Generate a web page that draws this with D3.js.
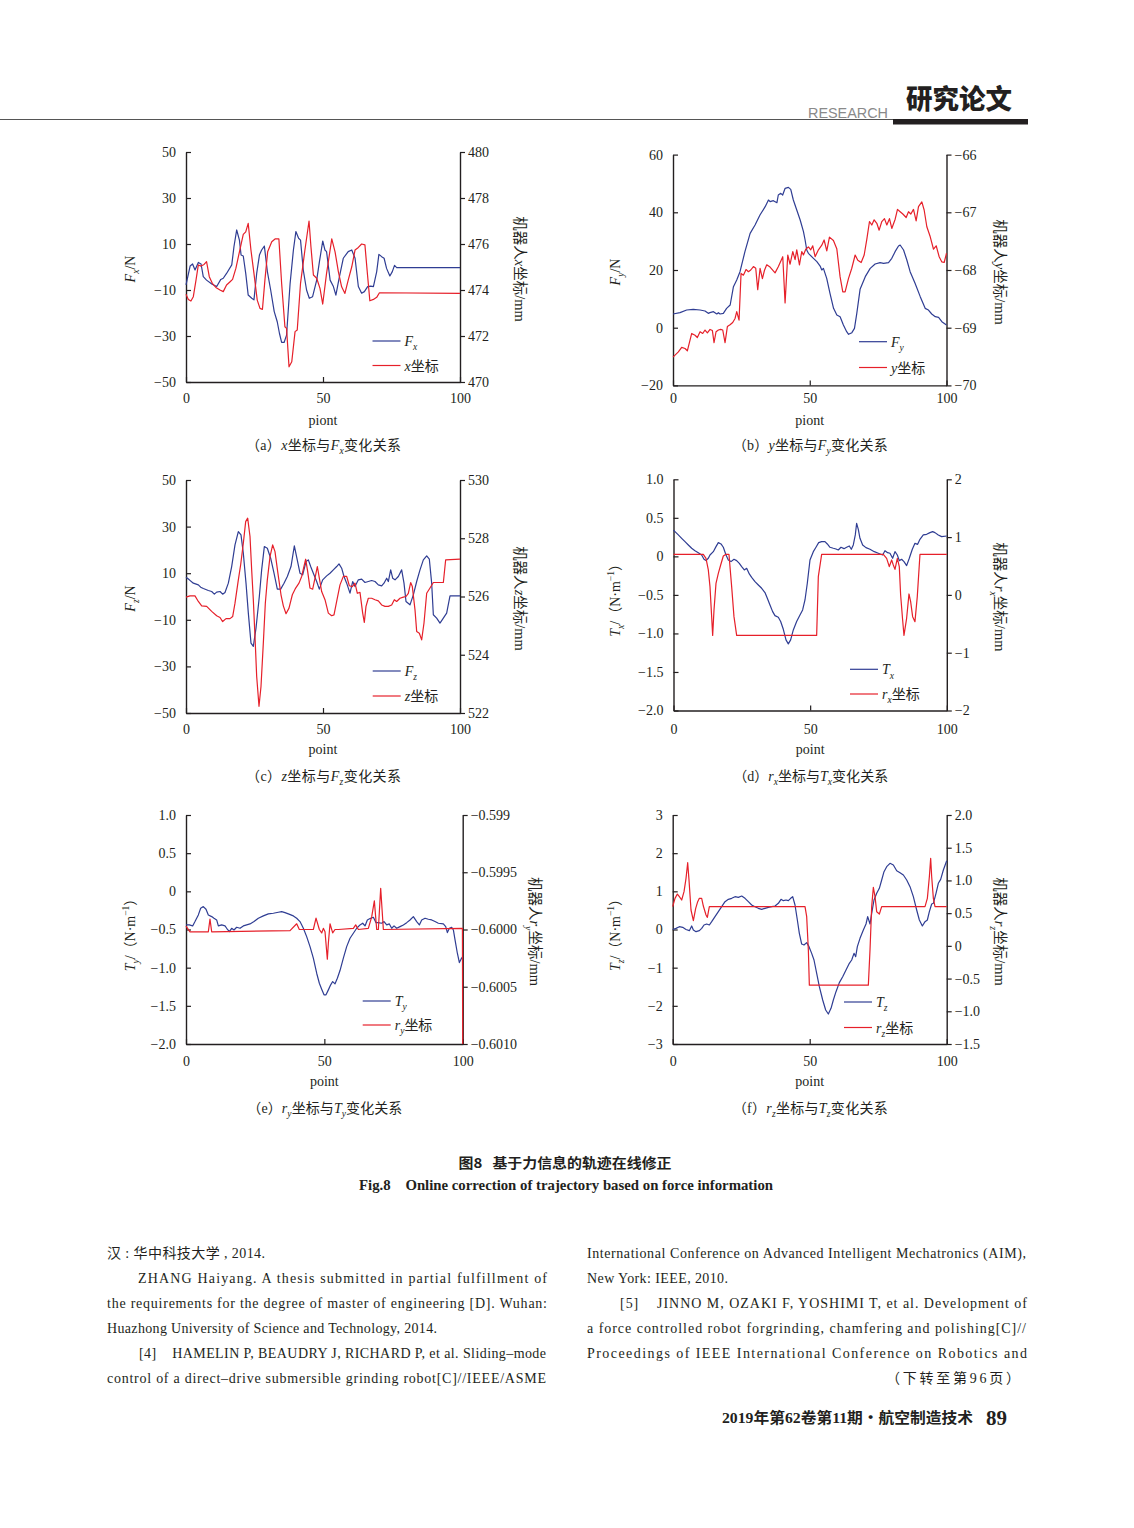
<!DOCTYPE html>
<html><head><meta charset="utf-8">
<script src="https://cdn.jsdelivr.net/npm/d3@7"></script>
<style>body{margin:0;background:#fff}svg{display:block}</style>
</head><body>
<script>
// ---------------- DATA ----------------
const xTicks = [0, 50, 100];

// (a)
const aLeftTicks = [-50, -30, -10, 10, 30, 50];
const aLeftLabels = ["−50", "−30", "−10", "10", "30", "50"];
const aRightTicks = [470, 472, 474, 476, 478, 480];
const aRightLabels = ["470", "472", "474", "476", "478", "480"];
const forceFx = [[0,-7.8],[1.5,0.4],[2.4,1.3],[3.3,-1.3],[4.5,2.0],[5.5,1.3],[6.3,-4.2],[7.5,-5.7],[9.4,-7.4],[11.2,-8.5],[12.7,-5.4],[13.6,-4.9],[14.8,-2.8],[16.7,0.9],[17.5,8.8],[18.5,16.1],[19.5,11.7],[20.1,5.2],[20.9,4.8],[21.8,-2.8],[22.7,-12.2],[24.0,-13.6],[24.8,-14.3],[25.8,-2.8],[26.8,5.2],[27.6,7.4],[28.6,9.1],[29.7,-2.0],[30.9,-10.0],[32.2,-19.4],[33.3,-23.8],[34.1,-28.8],[34.9,-32.8],[35.8,-32.8],[36.7,-29.6],[38.0,-7.1],[39.2,7.4],[40.1,15.4],[41.1,12.5],[41.8,11.7],[42.8,-1.3],[44.0,-10.0],[45.0,-13.6],[46.2,-12.9],[47.7,-5.7],[48.7,2.3],[49.9,11.3],[50.7,7.4],[51.3,6.7],[52.6,-5.7],[53.8,-8.5],[54.7,-12.2],[56.0,-4.2],[57.4,3.8],[59.2,6.7],[60.5,7.4],[61.7,3.8],[62.9,-8.5],[64.1,-11.4],[65.1,-10.7],[66.3,-8.5],[67.4,-8.3],[68.4,-8.5],[69.6,-2.0],[70.4,5.5],[71.4,4.5],[72.3,3.8],[73.2,-0.6],[74.4,-3.9],[75.3,-2.0],[76.1,0.7],[76.9,-0.3],[78.1,-0.3],[100,-0.3]];
const coordX = [[0,473.81],[0.85,473.59],[1.8,473.52],[2.67,473.71],[3.65,474.43],[4.5,475.09],[5.5,475.04],[6.6,475.11],[7.5,475.23],[8.5,474.58],[9.6,474.29],[10.9,474.11],[12.4,474.0],[13.6,473.93],[14.8,474.22],[16.1,474.36],[17.0,474.46],[18.2,474.94],[19.5,475.66],[20.9,476.42],[21.8,476.53],[22.7,476.9],[23.7,475.74],[24.8,474.72],[26.0,473.56],[27.0,473.2],[27.9,473.16],[28.8,474.43],[29.8,475.66],[31.3,476.1],[32.5,476.22],[33.9,476.22],[34.9,474.29],[36.1,472.4],[36.7,472.33],[37.6,470.66],[38.6,470.88],[39.8,472.19],[40.6,472.26],[41.8,474.29],[43.4,475.74],[44.9,477.0],[45.6,475.88],[46.5,474.65],[47.7,474.51],[48.9,474.07],[49.9,473.39],[51.3,474.72],[53.2,476.22],[54.4,475.66],[55.6,474.8],[56.8,474.14],[58.0,473.85],[59.2,474.43],[60.5,475.01],[61.7,475.74],[62.9,475.85],[64.1,476.0],[65.3,475.96],[66.2,474.72],[67.1,473.53],[68.4,473.59],[69.6,473.68],[70.6,473.88],[100,473.85]];

// (b)
const bLeftTicks = [-20, 0, 20, 40, 60];
const bLeftLabels = ["−20", "0", "20", "40", "60"];
const bRightTicks = [-70, -69, -68, -67, -66];
const bRightLabels = ["−70", "−69", "−68", "−67", "−66"];
const forceFy = [[0,4.75],[2.57,5.21],[5.0,6.13],[7.4,6.37],[9.9,6.13],[11.7,5.79],[12.9,4.98],[13.5,5.21],[14.8,5.56],[16.0,4.75],[16.6,5.21],[17.2,4.75],[18.4,4.98],[19.6,6.71],[20.9,7.87],[22.1,14.22],[23.3,16.53],[24.5,19.42],[26.3,26.35],[28.2,32.71],[30.0,35.6],[31.8,39.06],[33.7,41.95],[34.9,44.26],[35.5,43.68],[36.7,44.03],[38.0,43.34],[38.5,46.0],[39.4,46.57],[40.1,46.0],[41.0,48.31],[42.2,48.65],[43.05,47.96],[44.0,44.26],[45.25,40.8],[46.5,37.33],[47.7,33.29],[48.3,30.4],[48.9,26.93],[49.5,25.77],[51.35,24.04],[52.6,22.89],[53.8,21.38],[54.4,20.0],[55.0,20.58],[56.2,17.11],[57.4,11.91],[58.7,6.71],[59.9,4.4],[61.1,3.82],[62.3,0.94],[63.5,-1.38],[64.2,-2.3],[65.4,-1.72],[66.35,-0.22],[67.2,4.98],[68.4,13.3],[70.3,17.69],[72.1,20.58],[73.9,22.08],[75.7,22.54],[77.0,22.31],[78.8,22.54],[80.0,24.04],[81.2,26.35],[82.45,28.32],[83.05,28.66],[84.3,26.93],[85.5,23.47],[86.7,19.42],[88.5,15.38],[90.4,10.76],[92.2,6.71],[93.4,6.13],[94.6,4.75],[95.9,3.82],[97.1,3.59],[98.3,2.09],[100,0.93]];
const coordY = [[0,-69.51],[1.96,-69.42],[3.18,-69.34],[4.4,-69.36],[5.25,-69.4],[6.84,-69.1],[8.05,-69.13],[8.9,-69.17],[9.9,-69.07],[10.86,-69.1],[11.7,-69.04],[12.57,-69.09],[13.54,-69.03],[14.4,-69.05],[15.0,-69.26],[15.74,-69.07],[16.6,-69.04],[17.45,-69.03],[18.18,-69.04],[19.03,-69.26],[19.88,-68.98],[20.86,-68.95],[21.83,-68.91],[22.69,-68.84],[23.3,-68.72],[24.15,-68.87],[24.88,-68.06],[25.74,-68.09],[26.71,-67.99],[27.57,-68.03],[28.42,-68.0],[29.4,-67.94],[30.25,-67.97],[30.98,-68.34],[31.84,-67.97],[32.69,-68.15],[33.42,-68.01],[34.27,-67.91],[35.49,-67.95],[37.32,-68.05],[38.54,-67.94],[40.13,-67.77],[40.98,-68.57],[41.96,-67.74],[42.81,-67.9],[43.79,-67.68],[44.64,-67.82],[45.25,-67.65],[46.23,-67.91],[47.08,-67.68],[47.69,-67.74],[48.54,-67.64],[49.52,-67.6],[50.37,-67.65],[51.1,-67.58],[51.96,-67.77],[53.18,-67.65],[54.4,-67.57],[55.25,-67.48],[56.23,-67.67],[57.2,-67.43],[58.66,-67.49],[59.88,-67.63],[61.1,-68.12],[62.08,-68.38],[62.93,-68.38],[64.15,-68.15],[65.37,-67.97],[66.6,-67.74],[67.57,-67.83],[68.8,-67.87],[69.9,-67.74],[70.86,-67.47],[71.84,-67.16],[72.69,-67.22],[73.54,-67.13],[74.52,-67.19],[75.37,-67.31],[76.35,-67.16],[77.32,-67.11],[78.18,-67.22],[79.15,-67.11],[80.0,-67.28],[81.23,-67.12],[82.08,-66.95],[83.05,-66.99],[84.03,-67.03],[85.25,-67.09],[86.1,-66.99],[86.96,-67.03],[87.93,-66.95],[88.9,-67.15],[89.76,-66.9],[90.98,-66.82],[91.83,-66.96],[92.81,-67.25],[94.03,-67.42],[95.25,-67.64],[96.23,-67.58],[97.32,-67.77],[98.3,-67.86],[99.15,-67.87],[100,-67.71]];

// (c)
const cLeftTicks = [-50, -30, -10, 10, 30, 50];
const cLeftLabels = ["−50", "−30", "−10", "10", "30", "50"];
const cRightTicks = [522, 524, 526, 528, 530];
const cRightLabels = ["522", "524", "526", "528", "530"];
const forceFz = [[0,8.29],[1.22,7.15],[2.68,5.72],[4.5,5.0],[5.35,4.0],[6.33,3.43],[8.15,2.58],[9.37,2.15],[10.34,1.0],[11.19,1.86],[12.41,2.15],[13.38,1.0],[14.23,1.72],[15.45,5.72],[16.67,12.86],[17.88,22.15],[19.1,27.86],[20.07,26.43],[20.92,18.58],[21.9,5.72],[22.75,-7.14],[23.72,-20.0],[24.57,-21.43],[25.55,-13.57],[26.76,0.0],[27.61,11.43],[28.59,21.43],[29.68,20.72],[30.9,16.43],[32.12,10.0],[33.33,3.15],[34.55,3.15],[35.77,5.72],[36.98,8.58],[38.32,12.86],[39.54,21.72],[40.39,16.86],[41.6,10.0],[42.58,9.29],[43.8,15.0],[44.65,15.72],[45.5,12.86],[46.47,10.0],[47.69,6.43],[48.66,3.15],[49.88,7.15],[51.34,8.86],[52.55,10.0],[53.77,11.43],[54.99,12.86],[55.84,14.0],[56.81,12.15],[57.66,8.58],[58.64,5.72],[59.85,1.43],[60.83,6.43],[61.68,4.29],[62.9,7.15],[64.11,7.43],[65.33,6.0],[66.54,6.43],[67.76,6.86],[68.98,6.43],[70.19,5.0],[71.41,4.58],[72.26,5.72],[73.24,7.86],[73.84,6.43],[74.7,11.43],[75.43,7.86],[76.28,7.15],[77.5,8.58],[78.71,11.43],[79.56,5.72],[80.29,-2.14],[81.75,-3.57],[82.97,0.72],[84.19,6.43],[85.4,11.43],[86.62,15.72],[87.84,17.43],[88.81,16.0],[89.66,5.72],[90.27,-7.85],[91.48,-9.28],[92.7,-11.42],[93.92,-9.28],[95.13,-7.14],[96.35,0.29],[98.78,0.29],[100,0.29]];
const coordZ = [[0,525.98],[1.46,526.02],[3.28,526.02],[4.5,525.83],[5.72,525.68],[7.54,525.66],[9.37,525.49],[11.19,525.34],[12.41,525.28],[13.38,525.14],[14.6,525.24],[16.06,525.24],[17.03,525.31],[17.88,525.77],[19.1,526.57],[19.95,527.09],[20.92,527.83],[21.78,528.57],[22.51,528.69],[23.36,528.06],[23.97,526.91],[24.57,525.89],[25.18,524.63],[25.79,523.26],[26.64,522.23],[27.37,522.91],[28.22,524.4],[28.95,525.77],[29.68,526.57],[30.66,527.37],[31.63,527.77],[32.48,527.54],[33.45,526.86],[34.67,526.06],[35.52,525.68],[36.5,525.41],[37.59,525.6],[38.81,526.06],[40.02,526.29],[41.24,526.46],[42.21,526.69],[43.67,527.28],[44.4,526.86],[45.25,526.29],[46.23,526.25],[47.08,526.63],[47.93,527.03],[48.66,526.63],[49.51,526.17],[50.73,525.89],[51.95,525.43],[53.16,525.34],[54.01,525.37],[54.99,525.83],[56.2,526.4],[57.42,526.69],[58.64,526.69],[59.61,526.37],[60.7,526.34],[61.68,526.46],[62.53,526.11],[63.5,526.14],[64.48,525.43],[65.08,525.11],[65.69,525.66],[66.54,525.94],[67.76,525.94],[68.98,525.89],[70.19,525.85],[71.41,525.71],[72.63,525.66],[73.84,525.66],[75.06,525.71],[76.03,525.89],[76.88,525.83],[78.1,525.94],[79.32,525.98],[80.29,526.0],[81.14,526.11],[81.99,526.48],[82.6,526.34],[83.58,525.54],[84.19,524.8],[85.16,524.74],[86.01,524.51],[86.86,525.09],[87.84,526.11],[89.05,526.29],[90.27,526.48],[93.92,526.48],[94.77,527.26],[100,527.28]];

// (d)
const dLeftTicks = [-2, -1.5, -1, -0.5, 0, 0.5, 1];
const dLeftLabels = ["−2.0", "−1.5", "−1.0", "−0.5", "0", "0.5", "1.0"];
const dRightTicks = [-2, -1, 0, 1, 2];
const dRightLabels = ["−2", "−1", "0", "1", "2"];
const torqueTx = [[0,0.34],[0.55,0.321],[1.77,0.278],[2.99,0.234],[4.21,0.191],[5.43,0.148],[6.65,0.105],[7.86,0.074],[9.08,0.048],[10.3,0.018],[11.16,-0.038],[11.89,-0.055],[12.74,-0.025],[13.35,0.018],[14.57,0.061],[15.55,0.126],[16.4,0.178],[17.38,0.161],[18.23,0.118],[19.21,0.018],[20.06,-0.047],[21.04,-0.068],[22.13,-0.038],[23.11,-0.055],[24.08,-0.09],[24.94,-0.133],[25.91,-0.176],[26.77,-0.155],[27.74,-0.228],[28.6,-0.272],[29.82,-0.328],[31.04,-0.371],[32.26,-0.414],[33.47,-0.47],[34.33,-0.544],[35.3,-0.63],[36.28,-0.717],[37.13,-0.769],[38.35,-0.79],[39.21,-0.846],[40.18,-0.946],[41.16,-1.084],[42.01,-1.136],[42.86,-1.084],[43.84,-0.955],[45.06,-0.846],[46.28,-0.76],[47.25,-0.695],[48.11,-0.566],[48.96,-0.349],[49.94,-0.047],[51.16,0.061],[52.13,0.118],[53.11,0.178],[54.21,0.191],[55.42,0.191],[56.28,0.161],[57.26,0.118],[58.47,0.105],[59.45,0.096],[60.3,0.083],[61.28,0.118],[62.38,0.1],[63.35,0.118],[64.33,0.135],[65.06,0.092],[65.79,0.148],[66.52,0.278],[67.01,0.429],[67.62,0.351],[68.23,0.234],[69.21,0.148],[70.42,0.113],[71.89,0.092],[73.47,0.061],[74.94,0.04],[76.52,0.018],[77.38,0.074],[78.35,0.048],[79.2,0.04],[80.18,-0.025],[81.04,0.061],[81.89,0.018],[82.62,-0.055],[83.47,-0.038],[84.33,-0.068],[85.3,-0.12],[86.28,-0.025],[87.38,0.092],[88.35,0.169],[89.33,0.156],[90.18,0.221],[91.4,0.278],[92.62,0.286],[93.84,0.308],[94.82,0.321],[95.67,0.308],[96.89,0.278],[98.11,0.256],[100,0.264]];
const coordRx = [[0,0.7],[10.91,0.7],[11.89,0.633],[12.74,0.431],[13.35,0.143],[13.96,-0.376],[14.33,-0.7],[14.82,-0.261],[15.55,0.2],[16.4,0.373],[17.26,0.517],[18.23,0.673],[19.08,0.7],[20.3,0.7],[21.28,0.143],[22.13,-0.376],[23.11,-0.7],[52.38,-0.7],[52.99,0.316],[54.21,0.7],[76.77,0.7],[77.99,0.633],[78.96,0.489],[79.82,0.604],[80.43,0.517],[81.04,0.442],[81.89,0.633],[82.62,0.489],[83.11,-0.002],[83.84,-0.434],[84.33,-0.7],[85.3,-0.405],[86.16,0.016],[86.77,-0.117],[87.5,-0.376],[88.35,-0.463],[89.2,-0.03],[90.18,0.7],[100,0.7]];

// (e)
const eLeftTicks = [-2, -1.5, -1, -0.5, 0, 0.5, 1];
const eLeftLabels = ["−2.0", "−1.5", "−1.0", "−0.5", "0", "0.5", "1.0"];
const eRightTicks = [-0.601, -0.6005, -0.6, -0.5995, -0.599];
const eRightLabels = ["−0.6010", "−0.6005", "−0.6000", "−0.5995", "−0.599"];
const torqueTy = [[0,-0.44],[1.2,-0.44],[2.41,-0.453],[3.25,-0.396],[4.46,-0.309],[5.3,-0.222],[6.26,-0.2],[7.23,-0.235],[8.07,-0.309],[9.28,-0.331],[10.12,-0.353],[11.08,-0.375],[11.69,-0.453],[12.89,-0.44],[14.1,-0.453],[14.7,-0.484],[15.66,-0.527],[16.5,-0.484],[17.35,-0.506],[18.31,-0.471],[19.52,-0.484],[20.72,-0.453],[21.93,-0.44],[23.13,-0.427],[24.58,-0.396],[26.14,-0.353],[27.95,-0.322],[29.76,-0.296],[31.57,-0.287],[33.37,-0.274],[34.58,-0.266],[35.78,-0.279],[36.99,-0.296],[38.8,-0.322],[40.0,-0.353],[41.2,-0.396],[42.41,-0.484],[43.61,-0.593],[44.82,-0.724],[46.02,-0.876],[47.23,-1.073],[48.19,-1.204],[49.04,-1.282],[49.88,-1.356],[50.6,-1.356],[51.45,-1.291],[52.29,-1.225],[53.01,-1.182],[53.86,-1.212],[54.7,-1.138],[55.66,-1.038],[56.87,-0.876],[58.07,-0.724],[59.28,-0.615],[60.48,-0.549],[61.69,-0.484],[62.89,-0.44],[63.86,-0.418],[64.7,-0.453],[65.54,-0.375],[66.51,-0.357],[67.71,-0.34],[68.67,-0.41],[69.52,-0.41],[70.72,-0.418],[71.57,-0.396],[72.53,-0.44],[73.49,-0.427],[74.34,-0.484],[75.18,-0.453],[76.14,-0.484],[77.35,-0.462],[78.55,-0.44],[79.76,-0.41],[80.96,-0.375],[82.17,-0.331],[83.37,-0.396],[84.34,-0.44],[85.18,-0.375],[86.39,-0.353],[87.59,-0.366],[88.8,-0.375],[90.0,-0.396],[91.2,-0.418],[93.01,-0.427],[93.86,-0.462],[94.46,-0.54],[95.18,-0.484],[96.02,-0.471],[96.63,-0.506],[97.23,-0.636],[98.07,-0.811],[98.8,-0.933],[99.4,-0.889],[100,-0.855]];
const coordRy = [[0,-0.59997],[1.44,-0.60002],[8.07,-0.60002],[8.67,-0.59991],[9.28,-0.60002],[37.59,-0.60001],[40.0,-0.59995],[40.96,-0.6],[43.01,-0.6],[46.02,-0.6],[46.99,-0.5999],[48.19,-0.6],[49.04,-0.60003],[49.64,-0.59999],[50.24,-0.60002],[51.08,-0.60026],[51.45,-0.60012],[52.05,-0.59995],[53.01,-0.60003],[53.86,-0.6],[55.06,-0.6],[60.48,-0.59999],[61.33,-0.59996],[62.29,-0.6],[65.9,-0.59999],[67.11,-0.59989],[68.07,-0.59975],[68.92,-0.6],[69.52,-0.6],[70.36,-0.59964],[71.33,-0.6],[99.9,-0.59999],[100,-0.601]];

// (f)
const fLeftTicks = [-3, -2, -1, 0, 1, 2, 3];
const fLeftLabels = ["−3", "−2", "−1", "0", "1", "2", "3"];
const fRightTicks = [-1.5, -1, -0.5, 0, 0.5, 1, 1.5, 2];
const fRightLabels = ["−1.5", "−1.0", "−0.5", "0", "0.5", "1.0", "1.5", "2.0"];
const torqueTz = [[0,0.0],[1.21,0.03],[2.43,0.074],[3.64,0.057],[4.86,0.0],[6.08,-0.03],[6.93,0.092],[7.54,-0.013],[8.51,-0.057],[9.73,-0.03],[10.58,0.03],[11.43,0.118],[12.4,0.144],[13.38,0.118],[14.23,0.205],[15.44,0.336],[16.66,0.467],[17.88,0.598],[19.09,0.729],[20.31,0.79],[21.53,0.817],[22.74,0.86],[23.96,0.843],[25.18,0.878],[26.39,0.817],[27.61,0.729],[28.83,0.642],[30.04,0.598],[31.26,0.555],[32.47,0.528],[33.69,0.555],[34.91,0.581],[36.12,0.598],[37.34,0.616],[38.56,0.686],[39.53,0.79],[40.38,0.755],[41.36,0.773],[42.21,0.755],[43.06,0.817],[43.79,0.86],[44.64,0.642],[45.49,0.249],[46.22,-0.1],[47.07,-0.38],[47.92,-0.406],[48.9,-0.345],[49.75,-0.45],[50.72,-0.625],[51.57,-0.799],[52.55,-1.148],[53.52,-1.498],[54.74,-1.847],[55.83,-2.109],[56.8,-2.214],[57.78,-2.066],[58.63,-1.847],[59.6,-1.629],[60.82,-1.393],[62.04,-1.236],[63.25,-1.061],[64.47,-0.886],[65.32,-0.799],[66.17,-0.625],[66.78,-0.712],[67.39,-0.45],[68.36,-0.231],[69.58,-0.013],[70.55,0.144],[71.16,0.336],[72.01,0.144],[72.62,0.424],[73.47,0.773],[74.45,0.948],[75.42,1.079],[76.27,1.297],[77.12,1.515],[78.1,1.646],[79.31,1.734],[80.53,1.69],[81.75,1.541],[82.96,1.489],[84.18,1.428],[85.4,1.297],[86.61,1.122],[87.83,0.86],[89.04,0.511],[90.02,0.249],[91.11,0.092],[92.09,0.205],[92.94,0.249],[93.67,0.467],[94.52,0.668],[95.13,0.686],[96.1,0.948],[96.95,1.21],[97.8,1.314],[98.78,1.559],[100,1.8]];
const coordRz = [[0,0.6],[0.84,0.726],[1.7,0.792],[2.43,0.752],[3.28,0.701],[4.13,0.828],[4.86,1.032],[5.47,1.271],[5.95,1.006],[6.68,0.548],[7.54,0.385],[8.39,0.573],[9.12,0.675],[9.73,0.726],[10.58,0.726],[11.18,0.609],[12.16,0.472],[12.65,0.436],[13.37,0.6],[14.23,0.6],[48.29,0.6],[48.9,0.446],[49.51,-0.063],[49.87,-0.6],[71.4,-0.6],[72.01,-0.063],[72.62,0.6],[73.23,0.894],[73.84,0.752],[74.45,0.522],[75.42,0.487],[76.27,0.6],[92.08,0.6],[92.94,0.726],[93.67,1.057],[94.15,1.337],[94.52,1.057],[95.13,0.726],[95.73,0.6],[100,0.6]];

// ---------------- RENDER ----------------
const SERIF = "'Liberation Serif','Times New Roman','Noto Sans CJK SC',serif";
const CJK = "'Noto Sans CJK SC','Liberation Serif',sans-serif";
const BLUE = "#2f3d93", RED = "#e6202a", AX = "#231f20";

const svg = d3.select("body").append("svg").attr("width", 1134).attr("height", 1528)
  .style("font-family", SERIF);
svg.append("rect").attr("width", 1134).attr("height", 1528).attr("fill", "#fff");

function rich(t, segs, fs) {
  let shift = 0;
  segs.forEach(s => {
    if (typeof s === "string") s = { t: s };
    const ts = t.append("tspan").text(s.t);
    const target = s.sub ? fs * 0.32 : (s.sup ? -fs * 0.42 : 0);
    if (target !== shift) { ts.attr("dy", target - shift); shift = target; }
    if (s.sub || s.sup) ts.attr("font-size", fs * 0.68);
    if (s.i) ts.attr("font-style", "italic");
  });
}

// row text baselines: [x tick label centre, x title baseline, caption baseline]
const rows = [[398, 425, 450], [729, 754, 781], [1061, 1086, 1113]];

const panels = [
  { row: 0, L: 186, R: 460, T: 152, B: 382, yl: [-50, 50], lt: aLeftTicks, ll: aLeftLabels, yr: [470, 480], rt: aRightTicks, rl: aRightLabels,
    blue: forceFx, red: coordX, ltx: 130, rtx: 520, xlab: "piont",
    ltitle: [{t:"F",i:1},{t:"x",i:1,sub:1},"/N"], rtitle: ["机器人",{t:"x",i:1},"坐标/mm"],
    leg1: [{t:"F",i:1},{t:"x",i:1,sub:1}], leg2: [{t:"x",i:1},"坐标"], legX: 372.5, legY: [341, 365.5],
    cap: ["（a）",{t:"x",i:1},"坐标与",{t:"F",i:1},{t:"x",i:1,sub:1},"变化关系"] },
  { row: 0, L: 673, R: 946.5, T: 154.6, B: 385.4, yl: [-20, 60], lt: bLeftTicks, ll: bLeftLabels, yr: [-70, -66], rt: bRightTicks, rl: bRightLabels,
    blue: forceFy, red: coordY, ltx: 615, rtx: 1000, xlab: "piont",
    ltitle: [{t:"F",i:1},{t:"y",i:1,sub:1},"/N"], rtitle: ["机器人",{t:"y",i:1},"坐标/mm"],
    leg1: [{t:"F",i:1},{t:"y",i:1,sub:1}], leg2: [{t:"y",i:1},"坐标"], legX: 859, legY: [341.7, 367.5],
    cap: ["（b）",{t:"y",i:1},"坐标与",{t:"F",i:1},{t:"y",i:1,sub:1},"变化关系"] },
  { row: 1, L: 186, R: 460, T: 480, B: 713, yl: [-50, 50], lt: cLeftTicks, ll: cLeftLabels, yr: [522, 530], rt: cRightTicks, rl: cRightLabels,
    blue: forceFz, red: coordZ, ltx: 130, rtx: 520, xlab: "point",
    ltitle: [{t:"F",i:1},{t:"z",i:1,sub:1},"/N"], rtitle: ["机器人",{t:"z",i:1},"坐标/mm"],
    leg1: [{t:"F",i:1},{t:"z",i:1,sub:1}], leg2: [{t:"z",i:1},"坐标"], legX: 372.7, legY: [671, 696],
    cap: ["（c）",{t:"z",i:1},"坐标与",{t:"F",i:1},{t:"z",i:1,sub:1},"变化关系"] },
  { row: 1, L: 673.5, R: 946.8, T: 479.3, B: 710.5, yl: [-2, 1], lt: dLeftTicks, ll: dLeftLabels, yr: [-2, 2], rt: dRightTicks, rl: dRightLabels,
    blue: torqueTx, red: coordRx, ltx: 615, rtx: 1000, xlab: "point",
    ltitle: [{t:"T",i:1},{t:"x",i:1,sub:1},"/（N·m",{t:"−1",sup:1},"）"], rtitle: ["机器人",{t:"r",i:1},{t:"x",i:1,sub:1},"坐标/mm"],
    leg1: [{t:"T",i:1},{t:"x",i:1,sub:1}], leg2: [{t:"r",i:1},{t:"x",i:1,sub:1},"坐标"], legX: 850, legY: [669.3, 694],
    cap: ["（d）",{t:"r",i:1},{t:"x",i:1,sub:1},"坐标与",{t:"T",i:1},{t:"x",i:1,sub:1},"变化关系"] },
  { row: 2, L: 186, R: 462.7, T: 815, B: 1044, yl: [-2, 1], lt: eLeftTicks, ll: eLeftLabels, yr: [-0.601, -0.599], rt: eRightTicks, rl: eRightLabels,
    blue: torqueTy, red: coordRy, ltx: 130, rtx: 535, xlab: "point",
    ltitle: [{t:"T",i:1},{t:"y",i:1,sub:1},"/（N·m",{t:"−1",sup:1},"）"], rtitle: ["机器人",{t:"r",i:1},{t:"y",i:1,sub:1},"坐标/mm"],
    leg1: [{t:"T",i:1},{t:"y",i:1,sub:1}], leg2: [{t:"r",i:1},{t:"y",i:1,sub:1},"坐标"], legX: 362.7, legY: [1001, 1025],
    cap: ["（e）",{t:"r",i:1},{t:"y",i:1,sub:1},"坐标与",{t:"T",i:1},{t:"y",i:1,sub:1},"变化关系"] },
  { row: 2, L: 672.7, R: 946.7, T: 815, B: 1044, yl: [-3, 3], lt: fLeftTicks, ll: fLeftLabels, yr: [-1.5, 2], rt: fRightTicks, rl: fRightLabels,
    blue: torqueTz, red: coordRz, ltx: 615, rtx: 1000, xlab: "point",
    ltitle: [{t:"T",i:1},{t:"z",i:1,sub:1},"/（N·m",{t:"−1",sup:1},"）"], rtitle: ["机器人",{t:"r",i:1},{t:"z",i:1,sub:1},"坐标/mm"],
    leg1: [{t:"T",i:1},{t:"z",i:1,sub:1}], leg2: [{t:"r",i:1},{t:"z",i:1,sub:1},"坐标"], legX: 844, legY: [1002, 1027.5],
    cap: ["（f）",{t:"r",i:1},{t:"z",i:1,sub:1},"坐标与",{t:"T",i:1},{t:"z",i:1,sub:1},"变化关系"] }
];

function styleAxis(g) {
  g.attr("font-family", SERIF).attr("font-size", 14);
  g.selectAll("path.domain").attr("stroke", AX).attr("stroke-width", 1.4);
  g.selectAll(".tick line").attr("stroke", AX).attr("stroke-width", 1.2);
  g.selectAll(".tick text").attr("fill", "#231f20");
}

panels.forEach(p => {
  const g = svg.append("g");
  const [labC, titleY, capY] = rows[p.row];
  const x = d3.scaleLinear().domain([0, 100]).range([p.L, p.R]);
  const yl = d3.scaleLinear().domain(p.yl).range([p.B, p.T]);
  const yr = d3.scaleLinear().domain(p.yr).range([p.B, p.T]);

  g.append("g").attr("transform", `translate(${p.L},0)`)
    .call(d3.axisLeft(yl).tickValues(p.lt).tickFormat((d, i) => p.ll[i]).tickSize(-5).tickSizeOuter(0).tickPadding(10))
    .call(styleAxis);
  g.append("g").attr("transform", `translate(${p.R},0)`)
    .call(d3.axisRight(yr).tickValues(p.rt).tickFormat((d, i) => p.rl[i]).tickSize(5).tickSizeOuter(0).tickPadding(3))
    .call(styleAxis);
  g.append("g").attr("transform", `translate(0,${p.B})`)
    .call(d3.axisBottom(x).tickValues(xTicks).tickFormat(d3.format("d")).tickSize(-5).tickSizeOuter(0).tickPadding(labC - p.B - 5))
    .call(styleAxis);

  const lineB = d3.line().x(d => x(d[0])).y(d => yl(d[1]));
  const lineR = d3.line().x(d => x(d[0])).y(d => yr(d[1]));
  g.append("path").datum(p.blue).attr("d", lineB).attr("fill", "none").attr("stroke", BLUE).attr("stroke-width", 1.2).attr("stroke-linejoin", "round");
  g.append("path").datum(p.red).attr("d", lineR).attr("fill", "none").attr("stroke", RED).attr("stroke-width", 1.2).attr("stroke-linejoin", "round");

  // legend
  [[p.leg1, BLUE, p.legY[0]], [p.leg2, RED, p.legY[1]]].forEach(([segs, c, ly]) => {
    g.append("line").attr("x1", p.legX).attr("x2", p.legX + 28).attr("y1", ly).attr("y2", ly).attr("stroke", c).attr("stroke-width", 1.2);
    const t = g.append("text").attr("x", p.legX + 32).attr("y", ly + 5).attr("font-size", 14).attr("fill", "#231f20");
    rich(t, segs, 14);
  });

  // axis titles
  const cy = (p.T + p.B) / 2 + 2;
  const lt = g.append("text").attr("transform", `translate(${p.ltx},${cy}) rotate(-90)`)
    .attr("text-anchor", "middle").attr("dy", "0.35em").attr("font-size", 14).attr("fill", "#231f20");
  rich(lt, p.ltitle, 14);
  const rt = g.append("text").attr("transform", `translate(${p.rtx},${cy}) rotate(90)`)
    .attr("text-anchor", "middle").attr("dy", "0.35em").attr("font-size", 14.5).attr("fill", "#231f20");
  rich(rt, p.rtitle, 14.5);

  g.append("text").attr("x", (p.L + p.R) / 2).attr("y", titleY).attr("text-anchor", "middle")
    .attr("font-size", 14).attr("fill", "#231f20").text(p.xlab);
  const cap = g.append("text").attr("x", (p.L + p.R) / 2 - 77).attr("y", capY)
    .attr("font-size", 14).attr("fill", "#231f20").attr("textLength", 155).attr("lengthAdjust", "spacing");
  rich(cap, p.cap, 14);
});

// ---------------- PAGE TEXT ----------------
svg.append("line").attr("x1", 0).attr("x2", 1028).attr("y1", 119.5).attr("y2", 119.5).attr("stroke", "#555").attr("stroke-width", 1);
svg.append("rect").attr("x", 893).attr("y", 119).attr("width", 135).attr("height", 5.5).attr("fill", "#231f20");
svg.append("text").attr("x", 808).attr("y", 118).attr("font-family", "'Liberation Sans',Arial,sans-serif")
  .attr("font-size", 14).attr("fill", "#8a8a8a").attr("textLength", 80).attr("lengthAdjust", "spacingAndGlyphs").text("RESEARCH");
svg.append("text").attr("x", 906).attr("y", 109).attr("font-family", CJK).attr("font-weight", 900)
  .attr("font-size", 27).attr("fill", "#231f20").attr("textLength", 106).attr("lengthAdjust", "spacingAndGlyphs").text("研究论文");

svg.append("text").attr("x", 565).attr("y", 1168).attr("text-anchor", "middle").attr("font-family", CJK)
  .attr("font-weight", 700).attr("font-size", 13.5).attr("fill", "#231f20")
  .attr("textLength", 213).attr("lengthAdjust", "spacingAndGlyphs").style("white-space", "pre").text("图8   基于力信息的轨迹在线修正");
svg.append("text").attr("x", 566).attr("y", 1190).attr("text-anchor", "middle")
  .attr("font-weight", 700).attr("font-size", 14).attr("fill", "#231f20")
  .attr("textLength", 414).attr("lengthAdjust", "spacingAndGlyphs").style("white-space", "pre")
  .text("Fig.8    Online correction of trajectory based on force information");

const bodyLines = [
  [107, 1258, 158, "汉 : 华中科技大学 , 2014."],
  [138, 1283, 409, "ZHANG Haiyang. A thesis submitted in partial fulfillment of"],
  [107, 1308, 440, "the requirements for the degree of master of engineering [D]. Wuhan:"],
  [107, 1333, 330, "Huazhong University of Science and Technology, 2014."],
  [139, 1358, 407, "[4]    HAMELIN P, BEAUDRY J, RICHARD P, et al. Sliding–mode"],
  [107, 1383, 439, "control of a direct–drive submersible grinding robot[C]//IEEE/ASME"],
  [587, 1258, 439, "International Conference on Advanced Intelligent Mechatronics (AIM),"],
  [587, 1283, 141, "New York: IEEE, 2010."],
  [620, 1308, 407, "[5]    JINNO M, OZAKI F, YOSHIMI T, et al. Development of"],
  [587, 1333, 439, "a force controlled robot forgrinding, chamfering and polishing[C]//"],
  [587, 1358, 440, "Proceedings of IEEE International Conference on Robotics and"],
  [886, 1383, 134, "（下转至第96页）"]
];
bodyLines.forEach(([bx, by, w, t]) => {
  svg.append("text").attr("x", bx).attr("y", by).attr("font-size", 14).attr("fill", "#231f20")
    .attr("textLength", w).attr("lengthAdjust", "spacing").style("white-space", "pre").text(t);
});

svg.append("text").attr("x", 722).attr("y", 1423).attr("font-weight", 700).attr("font-size", 15).attr("fill", "#231f20")
  .attr("textLength", 251).attr("lengthAdjust", "spacingAndGlyphs").text("2019年第62卷第11期・航空制造技术");
svg.append("text").attr("x", 986).attr("y", 1425).attr("font-weight", 700).attr("font-size", 21).attr("fill", "#231f20").text("89");
</script>
</body></html>
